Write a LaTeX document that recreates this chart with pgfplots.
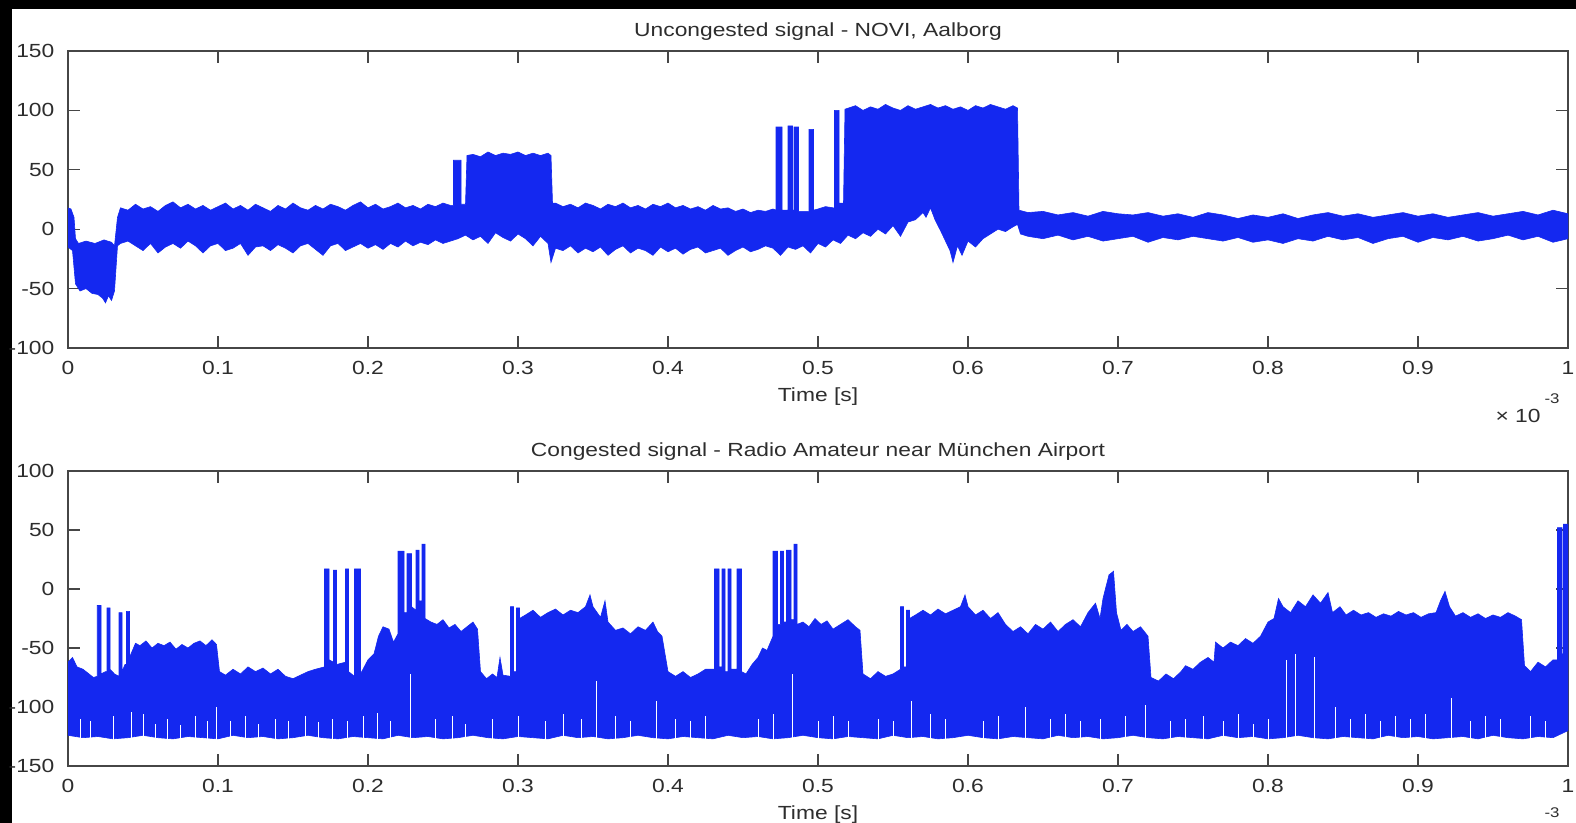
\documentclass[border=0pt]{standalone}
\usepackage{fontspec}
\setmainfont{Liberation Sans}[FakeStretch=1.2]
\usepackage{pgfplots}
\pgfplotsset{compat=1.18}
\definecolor{sigblue}{RGB}{20,40,240}
\definecolor{axgray}{RGB}{70,70,70}
\definecolor{txtgray}{RGB}{45,45,45}

\pgfplotsset{
  sigaxis/.style={
    scale only axis,
    width=750bp,
    anchor=north west,
    xmin=0, xmax=1,
    xtick={0,0.1,0.2,0.3,0.4,0.5,0.6,0.7,0.8,0.9,1},
    xticklabels={0,0.1,0.2,0.3,0.4,0.5,0.6,0.7,0.8,0.9,1},
    axis line style={axgray, line width=0.6pt},
    tick style={axgray, line width=0.6pt},
    major tick length=6bp,
    tick align=inside,
    tick label style={font=\fontsize{9.5bp}{11bp}\selectfont, text=txtgray},
    xticklabel style={anchor=base, yshift=-13bp},
    yticklabel style={anchor=east, xshift=-3.3bp},
    title style={at={(0.5,1)}, anchor=base, yshift=1.5bp,
      font=\fontsize{9.5bp}{11bp}\selectfont, text=txtgray},
    xlabel style={at={(0.5,0)}, anchor=base, yshift=-26.7bp,
      font=\fontsize{9.5bp}{11bp}\selectfont, text=txtgray},
    xlabel={Time [s]},
  }
}

\begin{document}
\begin{tikzpicture}
\useasboundingbox (0,0) rectangle (788bp,-411.5bp);
\fill[white] (0,0) rectangle (788bp,-411.5bp);
\fill[black] (0,0) rectangle (788bp,-4.5bp);
\fill[black] (0,0) rectangle (6bp,-411.5bp);

% ---------------- uncongested signal
\begin{axis}[sigaxis,
  at={(34bp,-25.5bp)}, height=148.5bp,
  ymin=-100, ymax=150,
  ytick={-100,-50,0,50,100,150},
  yticklabels={-100,-50,0,50,100,150},
  title={Uncongested signal - NOVI, Aalborg}]
% envelope: upper edge left to right, lower edge right to left
\addplot[fill=sigblue, draw=sigblue, line width=0.3pt] coordinates {
(0,18) (0.002,17) (0.004,10) (0.005,-8) (0.007,-12) (0.012,-10) (0.018,-12) (0.024,-9) (0.029,-11) (0.031,-14) (0.033,10)
(0.035,18) (0.04,16) (0.045,21) (0.05,17) (0.055,19) (0.06,15) (0.065,20) (0.07,23) (0.075,18) (0.08,21) (0.085,17) (0.09,20)
(0.095,16) (0.1,19) (0.105,22) (0.11,17) (0.115,20) (0.12,16) (0.125,21) (0.13,18) (0.135,15) (0.14,20) (0.145,17) (0.15,22)
(0.155,18) (0.16,16) (0.165,20) (0.17,17) (0.175,21) (0.18,19) (0.185,16) (0.19,20) (0.195,23) (0.2,18) (0.205,21) (0.21,17)
(0.215,19) (0.22,22) (0.225,18) (0.23,20) (0.235,17) (0.24,21) (0.245,19) (0.25,22) (0.255,20)
(0.257,20) (0.257,58) (0.262,58) (0.262,21) (0.265,21) (0.266,62) (0.27,63) (0.275,61) (0.28,65) (0.285,62) (0.29,64) (0.295,63)
(0.3,65) (0.305,62) (0.31,64) (0.315,62) (0.32,64) (0.322,62) (0.323,22)
(0.325,22) (0.33,19) (0.335,21) (0.34,18) (0.345,22) (0.35,20) (0.355,17) (0.36,21) (0.365,19) (0.37,22) (0.375,18) (0.38,20)
(0.385,17) (0.39,21) (0.395,19) (0.4,22) (0.405,18) (0.41,20) (0.415,17) (0.42,19) (0.425,16) (0.43,20) (0.435,17) (0.44,18)
(0.445,15) (0.45,17) (0.455,14) (0.46,16) (0.465,15) (0.47,17)
(0.472,16) (0.472,86) (0.476,86) (0.476,16) (0.480,16) (0.480,87) (0.483,87) (0.483,16) (0.484,16) (0.484,86) (0.487,86) (0.487,15)
(0.494,15) (0.494,84) (0.497,84) (0.497,16) (0.5,17) (0.505,19) (0.51,18)
(0.511,18) (0.511,100) (0.514,100) (0.514,22) (0.517,22)
(0.518,101) (0.525,104) (0.53,100) (0.535,103) (0.54,101) (0.545,105) (0.55,102) (0.555,100) (0.56,104) (0.565,101) (0.57,103)
(0.575,105) (0.58,102) (0.585,104) (0.59,101) (0.595,103) (0.6,100) (0.605,104) (0.61,102) (0.615,105) (0.62,103) (0.625,101)
(0.63,104) (0.633,102) (0.634,16)
(0.64,14) (0.65,15) (0.66,12) (0.67,14) (0.68,11) (0.69,15) (0.7,13) (0.71,12) (0.72,14) (0.73,11) (0.74,13) (0.75,10) (0.76,14)
(0.77,12) (0.78,9) (0.79,12) (0.8,10) (0.81,13) (0.82,9) (0.83,12) (0.84,14) (0.85,11) (0.86,13) (0.87,10) (0.88,12) (0.89,14)
(0.9,11) (0.91,13) (0.92,10) (0.93,12) (0.94,14) (0.95,11) (0.96,13) (0.97,15) (0.98,12) (0.99,16) (1,13)
(1,-8) (0.99,-11) (0.98,-6) (0.97,-9) (0.96,-5) (0.95,-8) (0.94,-10) (0.93,-6) (0.92,-9) (0.91,-7) (0.9,-11) (0.89,-6) (0.88,-8)
(0.87,-12) (0.86,-7) (0.85,-9) (0.84,-6) (0.83,-10) (0.82,-8) (0.81,-12) (0.8,-9) (0.79,-11) (0.78,-7) (0.77,-10) (0.76,-8)
(0.75,-6) (0.74,-9) (0.73,-7) (0.72,-11) (0.71,-6) (0.7,-8) (0.69,-10) (0.68,-6) (0.67,-9) (0.66,-5) (0.65,-8) (0.64,-6)
(0.635,-4) (0.633,4) (0.63,2) (0.625,-2) (0.62,0) (0.615,-4) (0.61,-8) (0.605,-15) (0.6,-10) (0.596,-22) (0.593,-14) (0.59,-28)
(0.588,-18) (0.585,-10) (0.582,-2) (0.578,8) (0.575,18) (0.572,10) (0.57,14) (0.565,8) (0.56,6) (0.555,-6) (0.55,3) (0.545,-4)
(0.54,0) (0.535,-6) (0.53,-3) (0.525,-8) (0.52,-5) (0.515,-12) (0.51,-9) (0.505,-15) (0.5,-12) (0.495,-20) (0.49,-14) (0.485,-17)
(0.48,-15) (0.475,-22) (0.47,-16) (0.465,-14) (0.46,-17) (0.455,-19) (0.45,-15) (0.445,-18) (0.44,-22) (0.435,-16) (0.43,-18)
(0.425,-20) (0.42,-15) (0.415,-17) (0.41,-21) (0.405,-16) (0.4,-19) (0.395,-15) (0.39,-22) (0.385,-18) (0.38,-16) (0.375,-20)
(0.37,-14) (0.365,-17) (0.36,-22) (0.355,-15) (0.35,-19) (0.345,-16) (0.34,-20) (0.335,-14) (0.33,-18) (0.325,-16) (0.322,-28)
(0.32,-12) (0.315,-6) (0.31,-14) (0.305,-8) (0.3,-4) (0.295,-10) (0.29,-7) (0.285,-3) (0.28,-12) (0.275,-6) (0.27,-9) (0.265,-5)
(0.26,-8) (0.255,-10) (0.25,-12) (0.245,-9) (0.24,-13) (0.235,-11) (0.23,-14) (0.225,-10) (0.22,-15) (0.215,-12) (0.21,-17)
(0.205,-13) (0.2,-16) (0.195,-12) (0.19,-15) (0.185,-18) (0.18,-12) (0.175,-14) (0.17,-22) (0.165,-17) (0.16,-12) (0.155,-14)
(0.15,-20) (0.145,-16) (0.14,-13) (0.135,-18) (0.13,-14) (0.125,-15) (0.12,-22) (0.115,-12) (0.11,-16) (0.105,-18) (0.1,-12)
(0.095,-14) (0.09,-20) (0.085,-14) (0.08,-10) (0.075,-16) (0.07,-12) (0.065,-15) (0.06,-20) (0.055,-12) (0.05,-18) (0.045,-14)
(0.04,-10) (0.035,-12) (0.033,-14) (0.031,-52) (0.029,-60) (0.027,-56) (0.025,-62) (0.023,-58) (0.02,-55) (0.016,-54)
(0.012,-50) (0.008,-52) (0.005,-46) (0.003,-18) (0,-15)
};
\end{axis}

% ---------------- congested signal
\begin{axis}[sigaxis,
  at={(34bp,-235.5bp)}, height=147.5bp,
  ymin=-150, ymax=100,
  ytick={-150,-100,-50,0,50,100},
  yticklabels={-150,-100,-50,0,50,100},
  title={Congested signal - Radio Amateur near München Airport}]
\addplot[fill=sigblue, draw=sigblue, line width=0.3pt] coordinates {
(0,-62) (0.003,-58) (0.006,-66) (0.01,-68) (0.014,-72) (0.017,-75) (0.0195,-74) (0.0195,-14) (0.022,-14) (0.022,-72) (0.025,-70)
(0.026,-70) (0.026,-16) (0.028,-16) (0.028,-68) (0.031,-72) (0.034,-74) (0.034,-20) (0.036,-20) (0.036,-70) (0.038,-64)
(0.039,-64) (0.039,-19) (0.041,-19) (0.041,-58) (0.043,-52) (0.045,-46) (0.048,-48) (0.052,-44) (0.056,-50) (0.06,-46)
(0.064,-48) (0.068,-45) (0.072,-51) (0.076,-47) (0.08,-50) (0.084,-46) (0.088,-44) (0.092,-48) (0.096,-43) (0.099,-47)
(0.101,-70) (0.105,-73) (0.11,-68) (0.115,-72) (0.12,-66) (0.125,-70) (0.13,-67) (0.135,-72) (0.14,-68) (0.145,-74) (0.15,-76)
(0.155,-73) (0.16,-70) (0.165,-68) (0.171,-66) (0.171,17) (0.174,17) (0.174,-60) (0.177,-62) (0.177,16) (0.179,16) (0.179,-64)
(0.185,-62) (0.185,17) (0.187,17) (0.187,-70) (0.191,-74) (0.191,17) (0.195,17) (0.195,-72) (0.2,-60) (0.204,-55) (0.207,-40)
(0.21,-32) (0.214,-34) (0.217,-45) (0.22,-38) (0.22,32) (0.224,32) (0.224,-20) (0.226,-20) (0.226,30) (0.229,30) (0.229,-15)
(0.232,-18) (0.232,33) (0.234,33) (0.234,-10) (0.236,-10) (0.236,38) (0.238,38) (0.238,-25) (0.242,-28) (0.246,-30) (0.25,-26)
(0.254,-33) (0.258,-30) (0.262,-36) (0.266,-32) (0.27,-28) (0.273,-34) (0.275,-70) (0.279,-76) (0.283,-72) (0.286,-75)
(0.288,-58) (0.29,-73) (0.295,-74) (0.295,-15) (0.297,-15) (0.297,-70) (0.299,-70) (0.299,-16) (0.301,-16) (0.301,-25)
(0.305,-22) (0.31,-18) (0.315,-24) (0.32,-20) (0.325,-17) (0.33,-22) (0.335,-18) (0.34,-20) (0.345,-15) (0.348,-5) (0.35,-15)
(0.355,-24) (0.358,-10) (0.36,-28) (0.365,-35) (0.37,-33) (0.375,-38) (0.38,-32) (0.385,-35) (0.39,-28) (0.393,-36) (0.396,-40)
(0.4,-70) (0.405,-74) (0.41,-70) (0.415,-75) (0.42,-72) (0.425,-68) (0.431,-68) (0.431,17) (0.434,17) (0.434,-66) (0.436,-66)
(0.436,17) (0.438,17) (0.438,-70) (0.44,-70) (0.44,17) (0.442,17) (0.442,-68) (0.446,-68) (0.446,17) (0.449,17) (0.449,-70)
(0.452,-72) (0.456,-64) (0.46,-58) (0.463,-50) (0.466,-52) (0.47,-40) (0.47,32) (0.473,32) (0.473,-30) (0.475,-30) (0.475,32)
(0.477,32) (0.477,-28) (0.479,-28) (0.479,33) (0.482,33) (0.482,-26) (0.484,-26) (0.484,38) (0.486,38) (0.486,-30) (0.49,-28)
(0.494,-32) (0.498,-25) (0.502,-30) (0.506,-27) (0.51,-34) (0.515,-30) (0.52,-26) (0.525,-32) (0.528,-35) (0.53,-72)
(0.535,-76) (0.54,-70) (0.545,-74) (0.55,-72) (0.555,-68) (0.555,-15) (0.557,-15) (0.557,-66) (0.559,-66) (0.559,-18)
(0.561,-18) (0.561,-25) (0.565,-22) (0.57,-18) (0.575,-22) (0.58,-17) (0.585,-21) (0.59,-18) (0.595,-15) (0.598,-5) (0.6,-15)
(0.605,-22) (0.61,-18) (0.615,-25) (0.62,-20) (0.625,-30) (0.63,-36) (0.635,-32) (0.64,-38) (0.645,-30) (0.65,-34) (0.655,-28)
(0.66,-36) (0.665,-30) (0.67,-26) (0.675,-32) (0.68,-20) (0.685,-12) (0.688,-25) (0.69,-8) (0.694,12) (0.697,15) (0.699,-20)
(0.702,-35) (0.706,-30) (0.71,-36) (0.715,-32) (0.72,-40) (0.722,-75) (0.727,-78) (0.732,-72) (0.737,-76) (0.742,-70)
(0.745,-65) (0.75,-68) (0.755,-62) (0.76,-58) (0.764,-62) (0.765,-45) (0.77,-50) (0.775,-45) (0.78,-48) (0.785,-42) (0.79,-46)
(0.795,-40) (0.8,-28) (0.804,-25) (0.807,-8) (0.81,-15) (0.815,-20) (0.82,-10) (0.825,-15) (0.83,-5) (0.835,-12) (0.84,-3)
(0.843,-20) (0.848,-15) (0.852,-22) (0.857,-18) (0.862,-22) (0.867,-20) (0.872,-24) (0.877,-21) (0.882,-23) (0.887,-19)
(0.892,-22) (0.897,-20) (0.902,-24) (0.907,-21) (0.912,-20) (0.915,-10) (0.918,-2) (0.921,-15) (0.925,-23) (0.93,-20)
(0.935,-24) (0.94,-21) (0.945,-25) (0.95,-22) (0.955,-24) (0.96,-20) (0.965,-23) (0.969,-26) (0.971,-65) (0.975,-70)
(0.98,-62) (0.985,-66) (0.99,-60) (0.993,-60) (0.993,52) (0.996,52) (0.996,-55) (0.997,-55) (0.997,55) (1,55)
(1,-120) (0.99,-126) (0.98,-125) (0.97,-127) (0.96,-126) (0.95,-124) (0.94,-127) (0.93,-125) (0.92,-126) (0.91,-127)
(0.9,-125) (0.89,-126) (0.88,-124) (0.87,-127) (0.86,-126) (0.85,-125) (0.84,-127) (0.83,-126) (0.82,-124) (0.81,-126)
(0.8,-127) (0.79,-125) (0.78,-126) (0.77,-124) (0.76,-127) (0.75,-126) (0.74,-125) (0.73,-127) (0.72,-126) (0.71,-124)
(0.7,-126) (0.69,-127) (0.68,-125) (0.67,-126) (0.66,-124) (0.65,-127) (0.64,-126) (0.63,-125) (0.62,-127) (0.61,-126)
(0.6,-124) (0.59,-126) (0.58,-127) (0.57,-125) (0.56,-126) (0.55,-124) (0.54,-127) (0.53,-126) (0.52,-125) (0.51,-127)
(0.5,-126) (0.49,-124) (0.48,-126) (0.47,-127) (0.46,-125) (0.45,-126) (0.44,-124) (0.43,-127) (0.42,-126) (0.41,-125)
(0.4,-127) (0.39,-126) (0.38,-124) (0.37,-126) (0.36,-127) (0.35,-125) (0.34,-126) (0.33,-124) (0.32,-127) (0.31,-126)
(0.3,-125) (0.29,-127) (0.28,-126) (0.27,-124) (0.26,-126) (0.25,-127) (0.24,-125) (0.23,-126) (0.22,-124) (0.21,-127)
(0.2,-126) (0.19,-125) (0.18,-127) (0.17,-126) (0.16,-124) (0.15,-126) (0.14,-127) (0.13,-125) (0.12,-126) (0.11,-124)
(0.1,-127) (0.09,-126) (0.08,-125) (0.07,-127) (0.06,-126) (0.05,-124) (0.04,-126) (0.03,-127) (0.02,-125) (0.01,-126)
(0,-124)
};
% white gaps inside the band
\addplot[white, line width=0.5pt, unbounded coords=jump] coordinates {
(0.008,-130) (0.008,-110) (0.008,nan) (0.015,-130) (0.015,-112) (0.015,nan) (0.03,-130) (0.03,-108) (0.03,nan)
(0.042,-130) (0.042,-104) (0.042,nan) (0.05,-130) (0.05,-106) (0.05,nan) (0.058,-130) (0.058,-114) (0.058,nan)
(0.066,-130) (0.066,-110) (0.066,nan) (0.075,-130) (0.075,-115) (0.075,nan) (0.085,-130) (0.085,-108) (0.085,nan)
(0.093,-130) (0.093,-112) (0.093,nan) (0.099,-130) (0.099,-100) (0.099,nan) (0.108,-130) (0.108,-112) (0.108,nan)
(0.118,-130) (0.118,-108) (0.118,nan) (0.127,-130) (0.127,-114) (0.127,nan) (0.138,-130) (0.138,-110) (0.138,nan)
(0.147,-130) (0.147,-112) (0.147,nan) (0.158,-130) (0.158,-108) (0.158,nan) (0.167,-130) (0.167,-113) (0.167,nan)
(0.176,-130) (0.176,-110) (0.176,nan) (0.186,-130) (0.186,-112) (0.186,nan) (0.197,-130) (0.197,-108) (0.197,nan)
(0.206,-130) (0.206,-105) (0.206,nan) (0.215,-130) (0.215,-112) (0.215,nan) (0.228,-130) (0.228,-72) (0.228,nan)
(0.245,-130) (0.245,-110) (0.245,nan) (0.256,-130) (0.256,-108) (0.256,nan) (0.265,-130) (0.265,-114) (0.265,nan)
(0.283,-130) (0.283,-110) (0.283,nan) (0.3,-130) (0.3,-108) (0.3,nan) (0.318,-130) (0.318,-112) (0.318,nan)
(0.33,-130) (0.33,-106) (0.33,nan) (0.342,-130) (0.342,-110) (0.342,nan) (0.352,-130) (0.352,-78) (0.352,nan)
(0.365,-130) (0.365,-108) (0.365,nan) (0.375,-130) (0.375,-112) (0.375,nan) (0.392,-130) (0.392,-95) (0.392,nan)
(0.405,-130) (0.405,-110) (0.405,nan) (0.415,-130) (0.415,-112) (0.415,nan) (0.425,-130) (0.425,-108) (0.425,nan)
(0.46,-130) (0.46,-110) (0.46,nan) (0.47,-130) (0.47,-106) (0.47,nan) (0.483,-130) (0.483,-72) (0.483,nan)
(0.5,-130) (0.5,-112) (0.5,nan) (0.51,-130) (0.51,-108) (0.51,nan) (0.52,-130) (0.52,-112) (0.52,nan)
(0.54,-130) (0.54,-110) (0.54,nan) (0.55,-130) (0.55,-112) (0.55,nan) (0.562,-130) (0.562,-95) (0.562,nan)
(0.575,-130) (0.575,-106) (0.575,nan) (0.585,-130) (0.585,-110) (0.585,nan) (0.61,-130) (0.61,-112) (0.61,nan)
(0.62,-130) (0.62,-108) (0.62,nan) (0.638,-130) (0.638,-100) (0.638,nan) (0.655,-130) (0.655,-110) (0.655,nan)
(0.665,-130) (0.665,-106) (0.665,nan) (0.675,-130) (0.675,-112) (0.675,nan) (0.688,-130) (0.688,-110) (0.688,nan)
(0.705,-130) (0.705,-108) (0.705,nan) (0.718,-130) (0.718,-98) (0.718,nan) (0.735,-130) (0.735,-112) (0.735,nan)
(0.745,-130) (0.745,-110) (0.745,nan) (0.757,-130) (0.757,-108) (0.757,nan) (0.77,-130) (0.77,-112) (0.77,nan)
(0.78,-130) (0.78,-106) (0.78,nan) (0.79,-130) (0.79,-114) (0.79,nan) (0.8,-130) (0.8,-110) (0.8,nan)
(0.812,-130) (0.812,-60) (0.812,nan) (0.818,-130) (0.818,-55) (0.818,nan) (0.831,-130) (0.831,-58) (0.831,nan)
(0.845,-130) (0.845,-100) (0.845,nan) (0.855,-130) (0.855,-110) (0.855,nan) (0.865,-130) (0.865,-106) (0.865,nan)
(0.875,-130) (0.875,-112) (0.875,nan) (0.885,-130) (0.885,-108) (0.885,nan) (0.895,-130) (0.895,-110) (0.895,nan)
(0.905,-130) (0.905,-106) (0.905,nan) (0.922,-130) (0.922,-92) (0.922,nan) (0.935,-130) (0.935,-112) (0.935,nan)
(0.945,-130) (0.945,-108) (0.945,nan) (0.955,-130) (0.955,-110) (0.955,nan) (0.975,-130) (0.975,-108) (0.975,nan)
(0.985,-130) (0.985,-112) (0.985,nan)
};
\end{axis}

% MATLAB style exponent labels
\node[font=\fontsize{9.5bp}{11bp}\selectfont, text=txtgray] at (759bp,-208bp) {× 10};
\node[font=\fontsize{7bp}{8bp}\selectfont, text=txtgray] at (776bp,-199.5bp) {-3};
\node[font=\fontsize{7bp}{8bp}\selectfont, text=txtgray] at (776bp,-406.5bp) {-3};
\end{tikzpicture}
\end{document}
